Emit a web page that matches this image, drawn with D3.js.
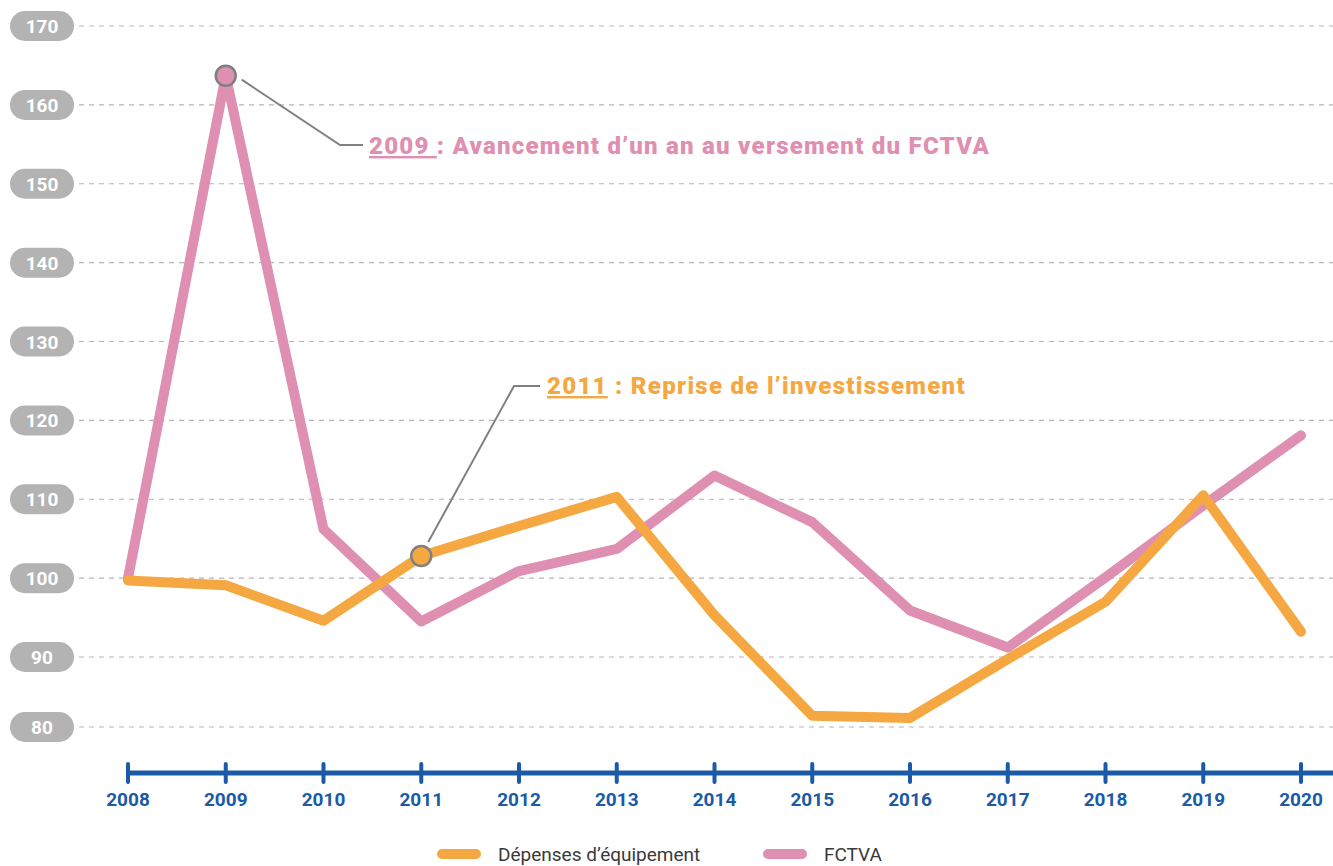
<!DOCTYPE html>
<html>
<head>
<meta charset="utf-8">
<script src="https://cdn.jsdelivr.net/npm/d3@7"></script>
<style>
  body { margin: 0; background: #fff; }
  svg { display: block; font-family: Roboto, "DejaVu Sans", sans-serif; }
</style>
</head>
<body>
<div id="chart"></div>
<script>
// Data
const years = [2008, 2009, 2010, 2011, 2012, 2013, 2014, 2015, 2016, 2017, 2018, 2019, 2020];
const depenses = [99.7, 99.1, 94.6, 102.8, 106.6, 110.3, 95.3, 81.6, 81.3, 89.7, 97.0, 110.5, 93.2];
const fctva = [100.0, 163.7, 106.2, 94.5, 100.9, 103.7, 113.0, 107.1, 95.9, 91.2, 100.1, 109.2, 118.1];
const yTicks = [80, 90, 100, 110, 120, 130, 140, 150, 160, 170];

const orange = '#f5a842';
const pink = '#df8fb1';
const blue = '#1a5aa6';

const width = 1333;
const height = 866;

const svg = d3.select('#chart').append('svg')
    .attr('width', width)
    .attr('height', height);

const x = d3.scaleLinear().domain([2008, 2020]).range([128, 1301]);
// the source chart squeezes the last band (80-90)
const y = d3.scaleLinear().domain([80, 90, 170]).range([727, 657, 26]);

// Gridlines + pill labels
yTicks.forEach(t => {
    svg.append('line')
        .attr('x1', 79).attr('x2', width)
        .attr('y1', y(t)).attr('y2', y(t))
        .attr('stroke', '#b5b5b5')
        .attr('stroke-width', 1.2)
        .attr('stroke-dasharray', '5,5');

    svg.append('rect')
        .attr('x', 10).attr('y', y(t) - 15)
        .attr('width', 64).attr('height', 30)
        .attr('rx', 15)
        .attr('fill', '#b3b3b3');

    svg.append('text')
        .attr('x', 42).attr('y', y(t) + 7)
        .attr('text-anchor', 'middle')
        .style('font-size', '19px')
        .style('font-weight', 'bold')
        .style('fill', '#fff')
        .text(t);
});

// X axis
const axisY = 773;
svg.append('line')
    .attr('x1', x(2008)).attr('x2', width)
    .attr('y1', axisY).attr('y2', axisY)
    .attr('stroke', blue)
    .attr('stroke-width', 5);

years.forEach(yr => {
    svg.append('line')
        .attr('x1', x(yr)).attr('x2', x(yr))
        .attr('y1', axisY - 9).attr('y2', axisY + 9)
        .attr('stroke', blue)
        .attr('stroke-width', 4)
        .attr('stroke-linecap', 'round');

    svg.append('text')
        .attr('x', x(yr)).attr('y', 806)
        .attr('text-anchor', 'middle')
        .style('font-size', '19px')
        .style('font-weight', 'bold')
        .style('fill', blue)
        .text(yr);
});

// Lines
const line = d3.line()
    .x((d, i) => x(years[i]))
    .y(d => y(d));

svg.append('path')
    .datum(fctva)
    .attr('d', line)
    .attr('fill', 'none')
    .attr('stroke', pink)
    .attr('stroke-width', 10)
    .attr('stroke-linecap', 'round')
    .attr('stroke-linejoin', 'round');

svg.append('path')
    .datum(depenses)
    .attr('d', line)
    .attr('fill', 'none')
    .attr('stroke', orange)
    .attr('stroke-width', 10)
    .attr('stroke-linecap', 'round')
    .attr('stroke-linejoin', 'round');

// Annotations
function annotate(cx, cy, pts, color, year, rest, tx, ty, targetW) {
    svg.append('polyline')
        .attr('points', pts.map(p => p.join(',')).join(' '))
        .attr('fill', 'none')
        .attr('stroke', '#808080')
        .attr('stroke-width', 2);

    svg.append('circle')
        .attr('cx', cx).attr('cy', cy)
        .attr('r', 10)
        .attr('fill', color)
        .attr('stroke', '#808080')
        .attr('stroke-width', 2.5);

    const t = svg.append('text')
        .attr('x', tx).attr('y', ty)
        .style('font-size', '24px')
        .style('font-weight', 900)
        .style('fill', color);
    t.append('tspan').attr('text-decoration', 'underline').text(year);
    t.append('tspan').text(rest);

    // stretch a bit to match the wider original face
    const w = t.node().getComputedTextLength();
    const n = (year + rest).length;
    t.style('letter-spacing', ((targetW - w) / n) + 'px');
}

const c1x = x(2009), c1y = y(fctva[1]);
annotate(c1x, c1y,
    [[c1x + 16, c1y + 4], [340, 145], [363, 145]],
    pink, '2009 ', ': Avancement d\u2019un an au versement du FCTVA', 369, 154, 621);

const c2x = x(2011), c2y = y(depenses[3]);
annotate(c2x, c2y,
    [[c2x + 7, c2y - 14], [514, 386], [540, 386]],
    orange, '2011', ' : Reprise de l\u2019investissement', 547, 394, 419);

// Legend
const legend = [
    { name: 'D\u00e9penses d\u2019\u00e9quipement', color: orange, x: 442 },
    { name: 'FCTVA', color: pink, x: 768 }
];
legend.forEach(l => {
    svg.append('line')
        .attr('x1', l.x).attr('x2', l.x + 34)
        .attr('y1', 854).attr('y2', 854)
        .attr('stroke', l.color)
        .attr('stroke-width', 10)
        .attr('stroke-linecap', 'round');
    svg.append('text')
        .attr('x', l.x + 56).attr('y', 861)
        .style('font-size', '19px')
        .style('fill', '#3a3a3a')
        .text(l.name);
});
</script>
</body>
</html>
